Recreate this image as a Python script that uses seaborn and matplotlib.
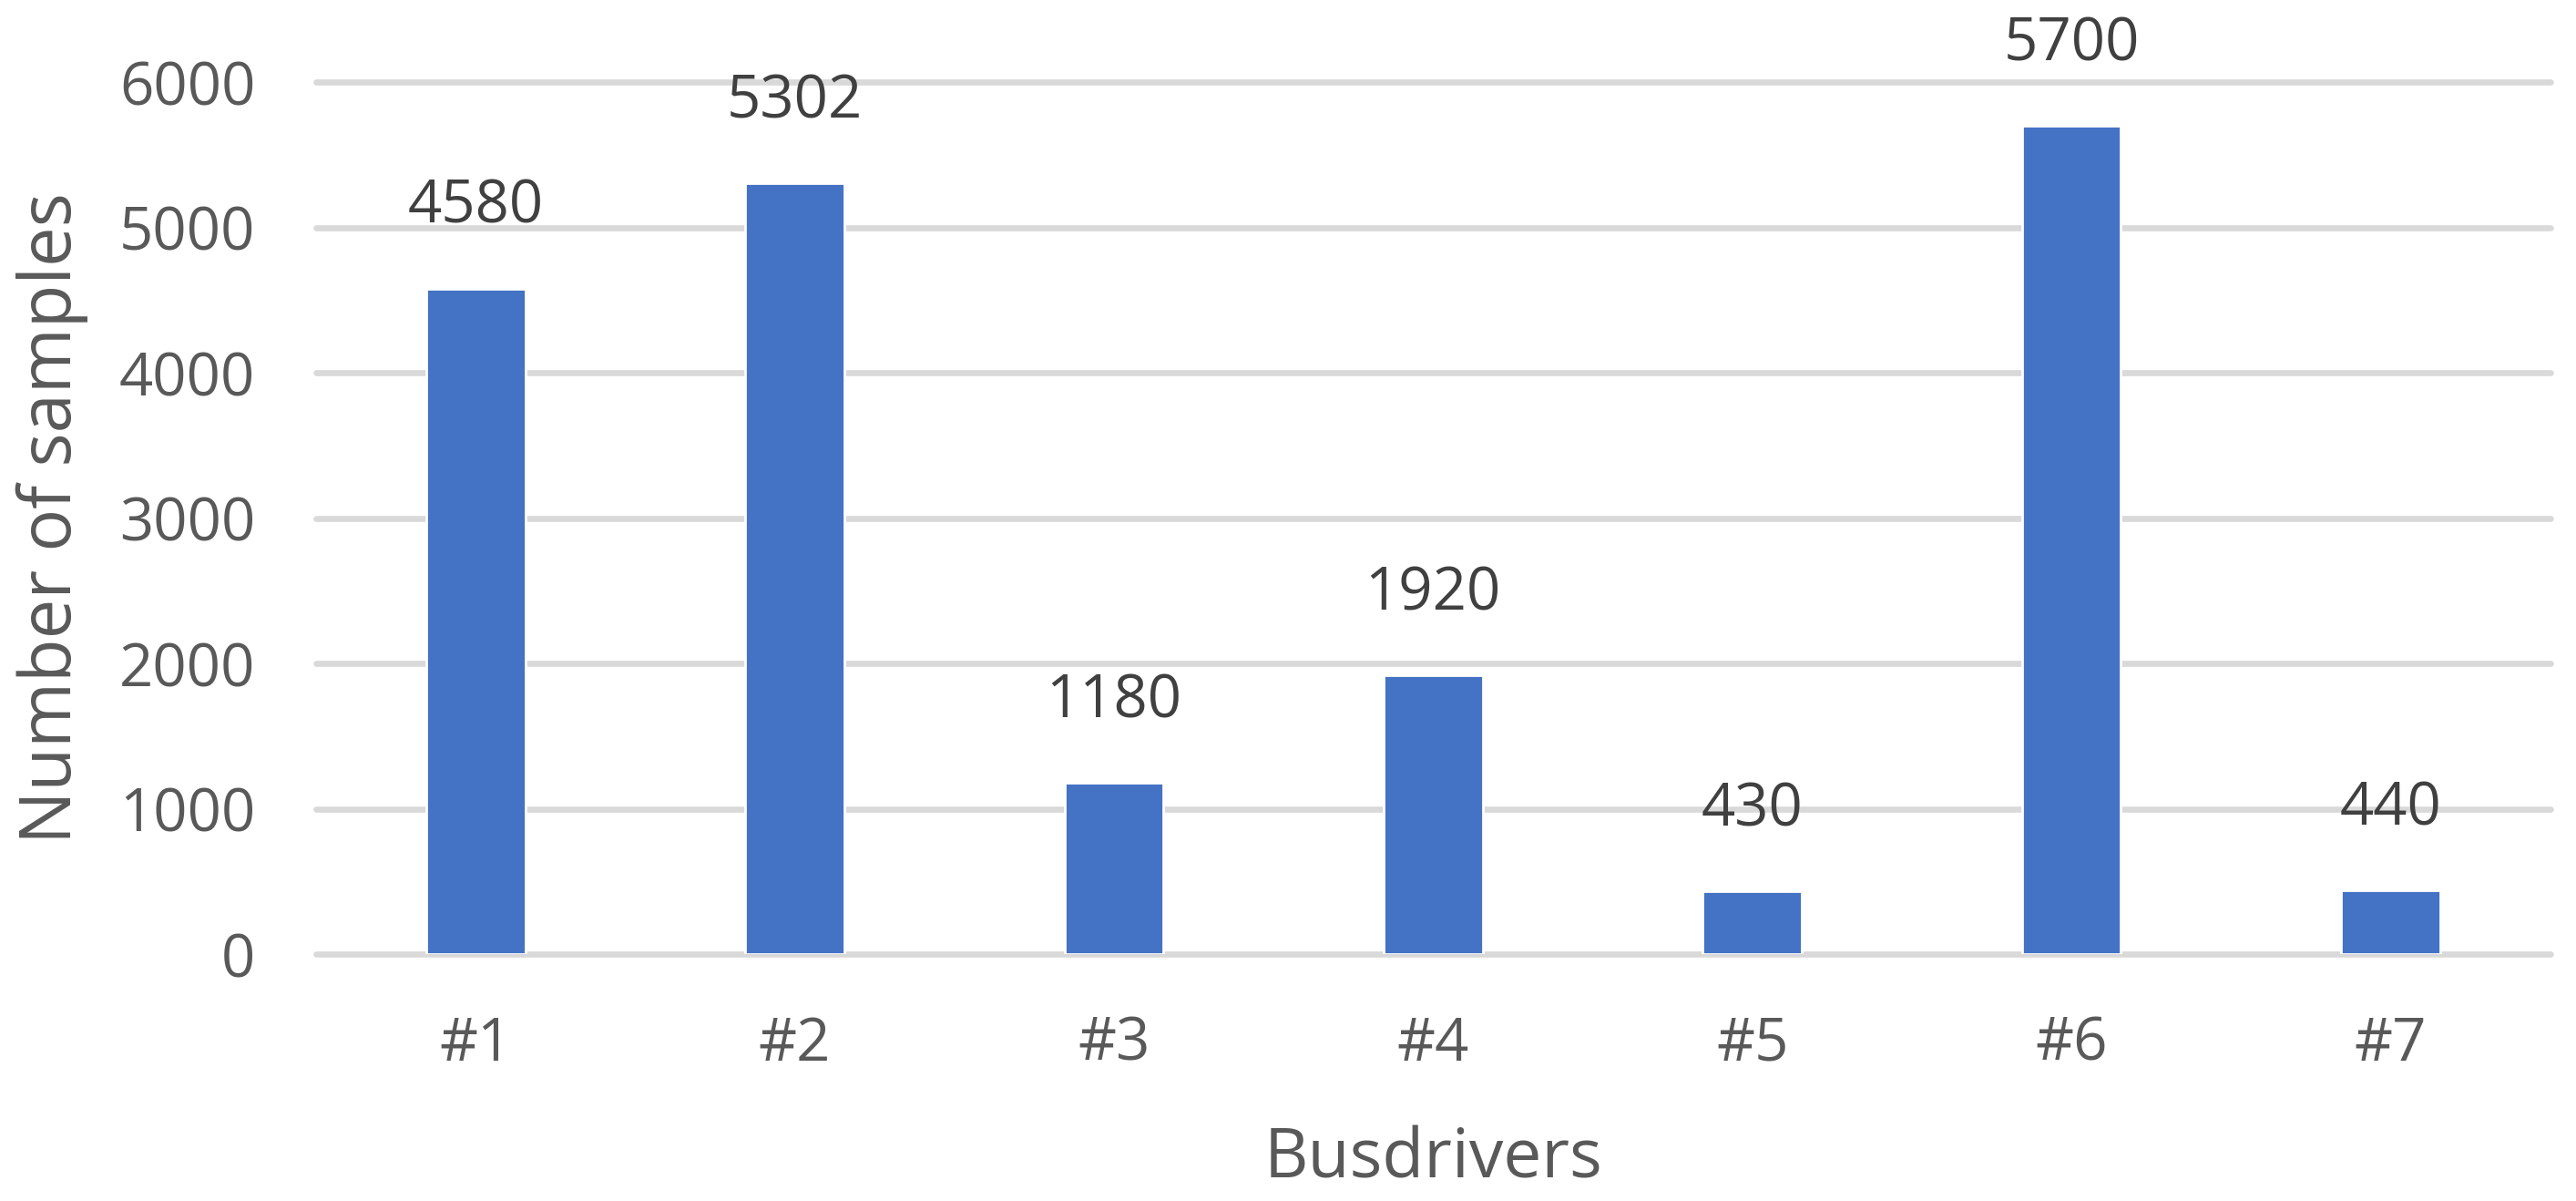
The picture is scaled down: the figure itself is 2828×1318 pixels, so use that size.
import seaborn as sns
import matplotlib.pyplot as plt
import pandas as pd

# Data
drivers = ['#1', '#2', '#3', '#4', '#5', '#6', '#7']
samples = [4580, 5302, 1180, 1920, 430, 5700, 440]
yticks = [0, 1000, 2000, 3000, 4000, 5000, 6000]

df = pd.DataFrame({'Busdrivers': drivers, 'Number of samples': samples})

sns.set_style('white')
plt.rcParams['font.family'] = ['Open Sans', 'DejaVu Sans']

fig = plt.figure(figsize=(14.14, 6.59), dpi=200)
ax = fig.add_axes([0.1227, 0.2056, 0.8673, 0.7261])

sns.barplot(data=df, x='Busdrivers', y='Number of samples', color='#4472C4',
            width=0.31, saturation=1, ax=ax)

ax.set_ylim(0, 6000)
ax.set_yticks(yticks)
ax.grid(axis='y', color='#d9d9d9', linewidth=2.4)
ax.set_axisbelow(True)
for gl in ax.get_ygridlines():
    gl.set_clip_on(False)

sns.despine(ax=ax, left=True, bottom=True)
ax.tick_params(axis='both', length=0, labelsize=23.5, labelcolor='#595959')
ax.tick_params(axis='y', pad=24)
ax.tick_params(axis='x', pad=24)

ax.bar_label(ax.containers[0], labels=[str(v) for v in samples], padding=20,
             fontsize=23.5, color='#404040')

ax.set_xlabel('Busdrivers', fontsize=27, color='#595959', labelpad=20)
ax.set_ylabel('Number of samples', fontsize=28, color='#595959', labelpad=12)

fig.savefig('out.png', dpi=200)
